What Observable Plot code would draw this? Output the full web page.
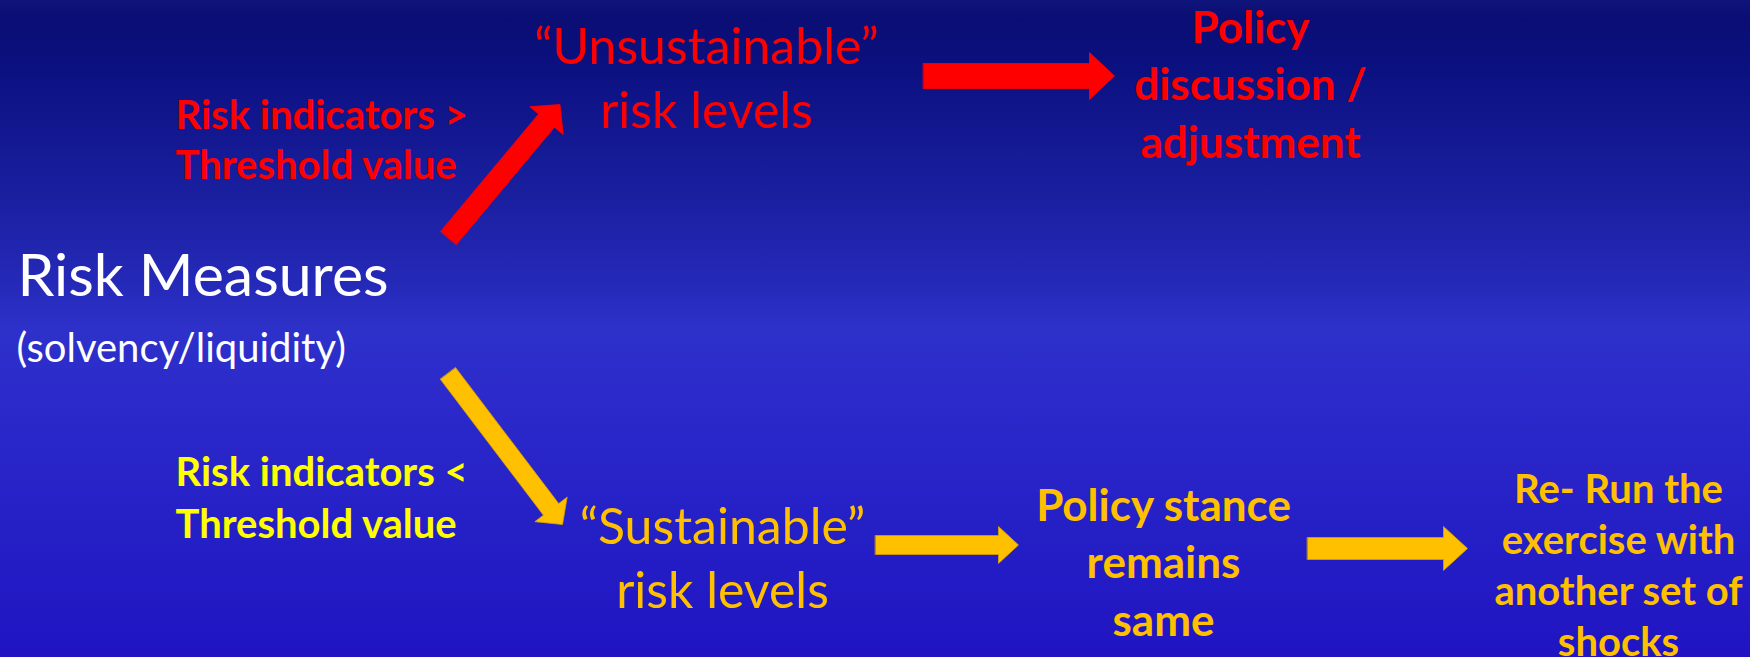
<!DOCTYPE html>
<html>
<head>
<meta charset="utf-8">
<script src="https://cdn.jsdelivr.net/npm/d3@7"></script>
<script src="https://cdn.jsdelivr.net/npm/@observablehq/plot@0.6"></script>
<style>
  html, body { margin: 0; padding: 0; background: #2014c2; }
  #chart svg { display: block; }
</style>
</head>
<body>
<div id="chart"></div>
<script>
// ---- Text blocks (content) ----
const blockText = [
  "Risk Measures",
  "(solvency/liquidity)",
  "Risk indicators >\nThreshold value",
  "“Unsustainable”\nrisk levels",
  "Policy\ndiscussion /\nadjustment",
  "Risk indicators <\nThreshold value",
  "“Sustainable”\nrisk levels",
  "Policy stance\nremains\nsame",
  "Re- Run the\nexercise with\nanother set of\nshocks"
];
// anchor x and baseline y of the last line (diagram coordinates)
const blockX = [17, 16, 175, 706, 1250, 175, 722, 1163, 1618];
const blockY = [295, 361, 178, 127, 157, 537, 607, 635, 655];
const blockRole = ["title", "subtitle", "condHigh", "stateHigh", "actionHigh", "condLow", "stateLow", "actionLow", "rerun"];

// ---- Arrows (tail -> tip) ----
const arrowFromX = [448, 923, 447.5, 875, 1307];
const arrowFromY = [237.5, 75.5, 373, 544.5, 548];
const arrowToX   = [559.5, 1114, 562, 1018, 1467];
const arrowToY   = [104, 75.5, 524, 544.5, 548];
const arrowTone  = ["high", "high", "low", "low", "low"];

// ---- styling ----
const roleStyle = {
  title:      {fill: "#ffffff", size: 59,  weight: 400, anchor: "start",  lh: 1.2},
  subtitle:   {fill: "#ffffff", size: 40,  weight: 400, anchor: "start",  lh: 1.2},
  condHigh:   {fill: "#ff0000", size: 40,  weight: 700, anchor: "start",  lh: 1.25},
  stateHigh:  {fill: "#ff0000", size: 50,  weight: 400, anchor: "middle", lh: 1.28},
  actionHigh: {fill: "#ff0000", size: 44,  weight: 700, anchor: "middle", lh: 1.3},
  condLow:    {fill: "#ffff00", size: 40,  weight: 700, anchor: "start",  lh: 1.3},
  stateLow:   {fill: "#ffc000", size: 50,  weight: 400, anchor: "middle", lh: 1.28},
  actionLow:  {fill: "#ffc000", size: 44,  weight: 700, anchor: "middle", lh: 1.3},
  rerun:      {fill: "#ffc000", size: 40,  weight: 700, anchor: "middle", lh: 1.27}
};
const arrowShape = [
  {shaft: 10.3, head: 21.7, len: 21},
  {shaft: 12.5, head: 23.5, len: 25},
  {shaft: 9.6,  head: 20.3, len: 19},
  {shaft: 9.5,  head: 18.5, len: 20},
  {shaft: 11,   head: 22,   len: 24}
];
const toneColor = {high: "#ff0000", low: "#ffc000"};

// Build arrow outlines
const arrowPts = [];
arrowFromX.forEach((x1, i) => {
  const y1 = arrowFromY[i], x2 = arrowToX[i], y2 = arrowToY[i];
  const {shaft, head, len} = arrowShape[i];
  const L = Math.hypot(x2 - x1, y2 - y1);
  const ux = (x2 - x1) / L, uy = (y2 - y1) / L;
  const nx = -uy, ny = ux;
  const bx = x2 - ux * len, by = y2 - uy * len;
  const pts = [
    [x1 + nx * shaft, y1 + ny * shaft],
    [bx + nx * shaft, by + ny * shaft],
    [bx + nx * head,  by + ny * head],
    [x2, y2],
    [bx - nx * head,  by - ny * head],
    [bx - nx * shaft, by - ny * shaft],
    [x1 - nx * shaft, y1 - ny * shaft]
  ];
  pts.forEach(([x, y]) => arrowPts.push({id: i, tone: arrowTone[i], x, y}));
});

const blocks = blockText.map((t, i) => ({text: t, x: blockX[i], y: blockY[i], role: blockRole[i]}));

const textMarks = Object.keys(roleStyle).map(role => {
  const s = roleStyle[role];
  return Plot.text(blocks.filter(d => d.role === role), {
    x: "x", y: "y", text: "text",
    fill: s.fill, fontSize: s.size, fontWeight: s.weight,
    textAnchor: s.anchor, lineAnchor: "bottom", lineHeight: s.lh,
    fontFamily: "Lato, 'Open Sans', sans-serif"
  });
});

const chart = Plot.plot({
  width: 1750,
  height: 657,
  margin: 0,
  x: {domain: [0, 1750], axis: null},
  y: {domain: [0, 657], reverse: true, axis: null},
  style: {
    background: "linear-gradient(to bottom, #0e1479 0%, #0a0e74 3%, #0b1080 10%, #1a1fa0 30%, #2529b8 43%, #2d31c9 50%, #2c2acb 60%, #2520c6 80%, #2014c2 100%)",
    fontFamily: "Lato, 'Open Sans', sans-serif"
  },
  marks: [
    Plot.line(arrowPts, {
      x: "x", y: "y", z: "id", curve: "linear-closed",
      fill: d => toneColor[d.tone],
      stroke: d => d.tone === "low" ? "#d9a000" : "#ff0000",
      strokeWidth: 0.8
    }),
    ...textMarks
  ]
});

document.getElementById("chart").appendChild(chart);
</script>
</body>
</html>
